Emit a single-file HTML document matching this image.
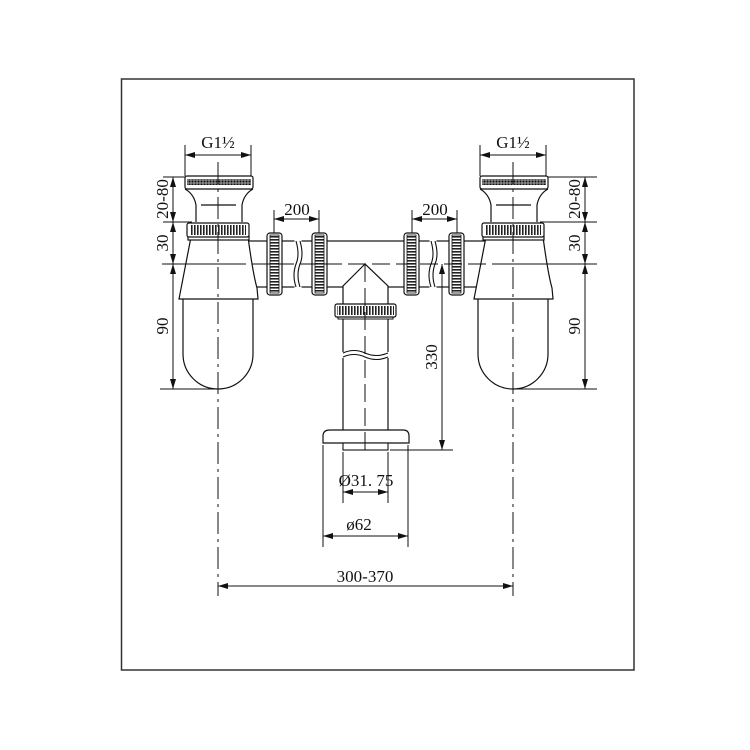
<!DOCTYPE html>
<html><head><meta charset="utf-8"><style>
html,body{margin:0;padding:0;background:#fff}
svg{display:block}
text{font-family:"Liberation Serif",serif;font-size:17px;fill:#111}
</style></head><body>
<svg width="750" height="750" viewBox="0 0 750 750" xmlns="http://www.w3.org/2000/svg">
<defs>
<pattern id="kv" width="3" height="10" patternUnits="userSpaceOnUse"><rect width="3" height="10" fill="#fff"/><rect width="1.6" height="10" fill="#222"/></pattern>
<pattern id="kh" width="10" height="3" patternUnits="userSpaceOnUse"><rect width="10" height="3" fill="#fff"/><rect width="10" height="1.6" fill="#222"/></pattern>
<pattern id="kx" width="3" height="3" patternUnits="userSpaceOnUse"><rect width="3" height="3" fill="#888"/><circle cx="1.5" cy="1.5" r="1" fill="#111"/></pattern>
<marker id="a" viewBox="0 0 10 6" refX="10" refY="3" markerWidth="10" markerHeight="6" orient="auto-start-reverse" markerUnits="userSpaceOnUse"><path d="M0,0 L10,3 L0,6 z" fill="#111"/></marker>
<g id="siphon" fill="#fff" stroke="#111" stroke-width="1.2">
  <path d="M-35,35 V90 A35,35 0 0 0 35,90 V35"/>
  <path d="M-27,-27 L-39,35 L40,35 L39,24 Q35,10 30,-27 Z"/>
  <rect x="-30" y="-28" width="61" height="4"/>
  <rect x="-31" y="-41" width="62" height="14" rx="2"/>
  <rect x="-28" y="-39" width="56" height="10" fill="url(#kv)" stroke="none"/>
  <path d="M-22,-42 V-59 Q-24,-70 -33,-75 M24,-42 V-59 Q26,-70 35,-75"/>
  <line x1="-17" y1="-59" x2="18" y2="-59"/>
  <rect x="-33" y="-88" width="68" height="13" rx="2"/>
  <rect x="-31" y="-85" width="64" height="6" fill="url(#kx)" stroke="none"/>
</g>
<g id="nutv" stroke="#111" stroke-width="1.2" fill="#fff">
  <rect x="0" y="0" width="15" height="62" rx="3"/>
  <rect x="3" y="2" width="9" height="58" fill="url(#kh)" stroke="#111" stroke-width="0.8"/>
</g>
</defs>

<rect x="121.5" y="79" width="512.5" height="591" fill="none" stroke="#333" stroke-width="1.5"/>

<g fill="#fff" stroke="#111" stroke-width="1.2">
  <rect x="245" y="241" width="241" height="46"/>
</g>
<g fill="#fff" stroke="#fff"><rect x="295" y="238" width="6" height="52"/><rect x="430" y="238" width="6" height="52"/></g>
<g fill="none" stroke="#111" stroke-width="1.1">
  <path d="M296,241 Q300,255 296,264 Q292,275 296,287"/><path d="M300,241 Q304,255 300,264 Q296,275 300,287"/>
  <path d="M431,241 Q435,255 431,264 Q427,275 431,287"/><path d="M435,241 Q439,255 435,264 Q431,275 435,287"/>
</g>

<use href="#siphon" x="218" y="264"/>
<use href="#siphon" x="513" y="264"/>

<use href="#nutv" x="267" y="233"/>
<use href="#nutv" x="312" y="233"/>
<use href="#nutv" x="404" y="233"/>
<use href="#nutv" x="449" y="233"/>

<path d="M365,264 L343,286 V305 H388 V286 Z" fill="#fff" stroke="#111" stroke-width="1.2"/>
<rect x="343" y="317" width="45" height="114" fill="#fff" stroke="#111" stroke-width="1.2"/>
<rect x="338" y="315" width="55" height="4" fill="#fff" stroke="#111" stroke-width="1"/>
<rect x="335" y="304" width="61" height="13" rx="2" fill="#fff" stroke="#111" stroke-width="1.2"/>
<rect x="337" y="306" width="57" height="9" fill="url(#kv)"/>
<rect x="341" y="352" width="49" height="6" fill="#fff"/>
<path d="M343,353 Q354,348 365,353 Q376,358 388,353 M343,357 Q354,352 365,357 Q376,362 388,357" fill="none" stroke="#111" stroke-width="1.1"/>
<path d="M323,443 V436 Q323,430 330,430 H403 Q409,430 409,436 V443 Z" fill="#fff" stroke="#111" stroke-width="1.2"/>
<rect x="343" y="443" width="45" height="7" fill="#fff" stroke="#111" stroke-width="1.1"/>

<g stroke="#111" stroke-width="1" fill="none">
  <line x1="162" y1="264" x2="228" y2="264"/>
  <line x1="228" y1="264" x2="500" y2="264" stroke-dasharray="18,6"/>
  <line x1="500" y1="264" x2="597" y2="264"/>
  <line x1="218" y1="162" x2="218" y2="596" stroke-dasharray="22,5,3,5"/>
  <line x1="513" y1="162" x2="513" y2="596" stroke-dasharray="22,5,3,5"/>
  <line x1="365" y1="264" x2="365" y2="450" stroke-dasharray="18,6"/>
</g>

<g stroke="#111" stroke-width="1" fill="none">
  <line x1="185" y1="145" x2="185" y2="176"/><line x1="251" y1="145" x2="251" y2="176"/>
  <line x1="185" y1="155" x2="251" y2="155" marker-start="url(#a)" marker-end="url(#a)"/>
  <line x1="480" y1="145" x2="480" y2="176"/><line x1="546" y1="145" x2="546" y2="176"/>
  <line x1="480" y1="155" x2="546" y2="155" marker-start="url(#a)" marker-end="url(#a)"/>
  <line x1="163" y1="177" x2="185" y2="177"/>
  <line x1="163" y1="222" x2="192" y2="222"/>
  <line x1="160" y1="389" x2="218" y2="389"/>
  <line x1="173" y1="177" x2="173" y2="222" marker-start="url(#a)" marker-end="url(#a)"/>
  <line x1="173" y1="222" x2="173" y2="264" marker-start="url(#a)" marker-end="url(#a)"/>
  <line x1="173" y1="264" x2="173" y2="389" marker-start="url(#a)" marker-end="url(#a)"/>
  <line x1="548" y1="177" x2="597" y2="177"/>
  <line x1="540" y1="222" x2="597" y2="222"/>
  <line x1="513" y1="389" x2="597" y2="389"/>
  <line x1="585" y1="177" x2="585" y2="222" marker-start="url(#a)" marker-end="url(#a)"/>
  <line x1="585" y1="222" x2="585" y2="264" marker-start="url(#a)" marker-end="url(#a)"/>
  <line x1="585" y1="264" x2="585" y2="389" marker-start="url(#a)" marker-end="url(#a)"/>
  <line x1="274" y1="210" x2="274" y2="233"/><line x1="319" y1="210" x2="319" y2="233"/>
  <line x1="274" y1="219" x2="319" y2="219" marker-start="url(#a)" marker-end="url(#a)"/>
  <line x1="412" y1="210" x2="412" y2="233"/><line x1="457" y1="210" x2="457" y2="233"/>
  <line x1="412" y1="219" x2="457" y2="219" marker-start="url(#a)" marker-end="url(#a)"/>
  <line x1="390" y1="450" x2="453" y2="450"/>
  <line x1="442" y1="264" x2="442" y2="450" marker-start="url(#a)" marker-end="url(#a)"/>
  <line x1="343" y1="452" x2="343" y2="503"/><line x1="388" y1="452" x2="388" y2="503"/>
  <line x1="343" y1="492" x2="388" y2="492" marker-start="url(#a)" marker-end="url(#a)"/>
  <line x1="323" y1="445" x2="323" y2="547"/><line x1="408" y1="445" x2="408" y2="547"/>
  <line x1="323" y1="536" x2="408" y2="536" marker-start="url(#a)" marker-end="url(#a)"/>
  <line x1="218" y1="586" x2="513" y2="586" marker-start="url(#a)" marker-end="url(#a)"/>
</g>

<text x="218" y="148" text-anchor="middle">G1½</text>
<text x="513" y="148" text-anchor="middle">G1½</text>
<text x="297" y="215" text-anchor="middle" font-size="14">200</text>
<text x="435" y="215" text-anchor="middle" font-size="14">200</text>
<text transform="translate(168,199) rotate(-90)" text-anchor="middle">20-80</text>
<text transform="translate(168,243) rotate(-90)" text-anchor="middle">30</text>
<text transform="translate(168,326) rotate(-90)" text-anchor="middle">90</text>
<text transform="translate(580,199) rotate(-90)" text-anchor="middle">20-80</text>
<text transform="translate(580,243) rotate(-90)" text-anchor="middle">30</text>
<text transform="translate(580,326) rotate(-90)" text-anchor="middle">90</text>
<text transform="translate(437,357) rotate(-90)" text-anchor="middle">330</text>
<text x="366" y="486" text-anchor="middle" font-size="15">Ø31. 75</text>
<text x="359" y="530" text-anchor="middle">ø62</text>
<text x="365" y="582" text-anchor="middle">300-370</text>
</svg>
</body></html>
